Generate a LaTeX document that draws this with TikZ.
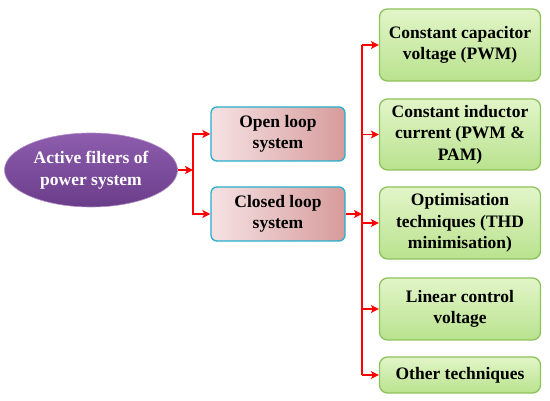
\documentclass[tikz,border=0pt]{standalone}
\usepackage{fontspec}
\setmainfont{Liberation Serif}
\usepackage{tikz}
\usetikzlibrary{positioning, calc, arrows.meta, shapes.geometric}

\definecolor{rootA}{HTML}{8E5DAE}
\definecolor{rootB}{HTML}{6A3D8A}
\definecolor{loopA}{HTML}{F6E2E3}
\definecolor{loopB}{HTML}{D69B9B}
\definecolor{loopedge}{HTML}{29AECB}
\definecolor{techA}{HTML}{E2F5C8}
\definecolor{techB}{HTML}{B9E28E}
\definecolor{techedge}{HTML}{8DC35C}

\begin{document}
\begin{tikzpicture}[
  x=1pt, y=-1pt,
  font=\fontsize{17.5}{21.5}\selectfont\bfseries,
  rootellipse/.style={ellipse, draw=rootA!70!white, line width=0.6pt, top color=rootA, bottom color=rootB, text=white, minimum width=173pt, minimum height=74pt, inner sep=0pt, align=center},
  loopbox/.style={draw=loopedge, line width=1.3pt, rounded corners=6pt, left color=loopA, right color=loopB, minimum width=134pt, minimum height=54pt, inner sep=0pt, align=center},
  techbox/.style={draw=techedge, line width=1.3pt, rounded corners=8pt, top color=techA, bottom color=techB, minimum width=161pt, inner sep=0pt, align=center},
  arrow/.style={-{Stealth[length=8pt, width=8pt, inset=2pt]}, draw=red, line width=1.8pt},
  line/.style={draw=red, line width=1.8pt},
]
  \useasboundingbox (0,0) rectangle (550,401);

  % Root
  \node (root) [rootellipse] at (91,170) {Active filters of\\power system};

  % Loop types
  \node (open) [loopbox] at (278,134) {Open loop\\system};
  \node (closed) [loopbox] at (278,214) {Closed loop\\system};

  % Control techniques
  \node (tech1) [techbox, minimum height=72pt] at (460,45) {Constant capacitor\\voltage (PWM)};
  \node (tech2) [techbox, minimum height=71pt] at (460,134.5) {Constant inductor\\current (PWM \&\\PAM)};
  \node (tech3) [techbox, minimum height=72pt] at (460,223) {Optimisation\\techniques (THD\\minimisation)};
  \node (tech4) [techbox, minimum height=62pt] at (460,309) {Linear control\\voltage};
  \node (tech5) [techbox, minimum height=36pt] at (460,375) {Other techniques};

  % Junctions
  \coordinate (split) at (193,170);
  \coordinate (bus) at (362,214);

  % Root to loop types
  \draw [arrow] (root.east) -- (split);
  \draw [arrow] (split) |- (open.west);
  \draw [arrow] (split) |- (closed.west);

  % Closed loop to techniques
  \draw [arrow] (closed.east) -- (bus);
  \draw [line] (tech1.west -| bus) -- (tech5.west -| bus);
  \foreach \i in {1,...,5} {
    \draw [arrow] (tech\i.west -| bus) -- (tech\i.west);
  }

\end{tikzpicture}
\end{document}
